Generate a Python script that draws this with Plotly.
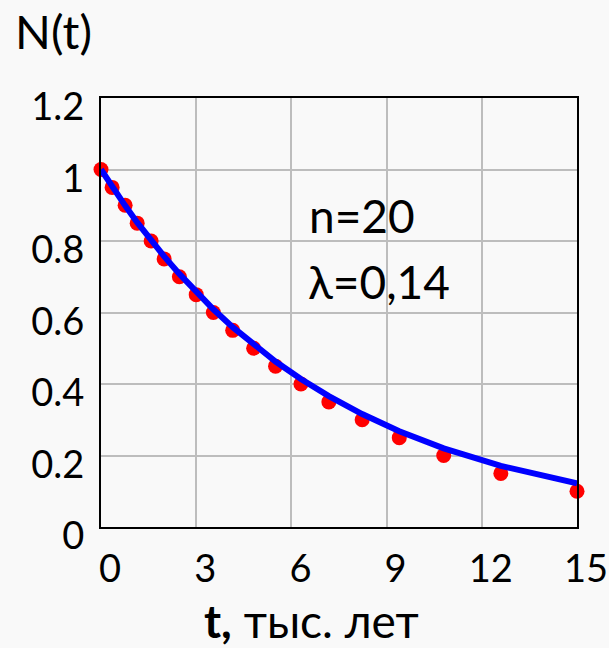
import plotly.graph_objects as go

# Data
t_points = [0, 0.35, 0.76, 1.14, 1.58, 1.99, 2.47, 3.0, 3.54, 4.15, 4.81,
            5.5, 6.3, 7.18, 8.23, 9.4, 10.8, 12.6, 15.0]
n_points = [1.0, 0.95, 0.9, 0.85, 0.8, 0.75, 0.7, 0.65, 0.6, 0.55, 0.5,
            0.45, 0.4, 0.35, 0.3, 0.25, 0.2, 0.15, 0.1]
n_curve = [1.0, 0.952, 0.899, 0.852, 0.802, 0.757, 0.708, 0.657, 0.609, 0.559,
           0.510, 0.463, 0.414, 0.366, 0.316, 0.268, 0.220, 0.171, 0.122]
x_ticks = [0, 3, 6, 9, 12, 15]
y_ticks = [0, 0.2, 0.4, 0.6, 0.8, 1.0, 1.2]

FONT = "Lato, 'Open Sans', sans-serif"
BG = "#f9f9f9"

fig = go.Figure()
fig.add_trace(go.Scatter(x=t_points, y=n_points, mode="markers",
                         marker=dict(color="#ff0000", size=15),
                         cliponaxis=False, showlegend=False))
fig.add_trace(go.Scatter(x=t_points, y=n_curve, mode="lines",
                         line=dict(color="#0000ff", width=6),
                         cliponaxis=False, showlegend=False))

fig.update_layout(
    width=609, height=648,
    margin=dict(l=101, r=32, t=98, b=121, autoexpand=False),
    paper_bgcolor=BG, plot_bgcolor=BG,
    font=dict(family=FONT, color="#000000", size=38),
    xaxis=dict(range=[0, 15], tickvals=x_ticks, ticktext=[str(v) for v in x_ticks],
               showgrid=True, gridcolor="#bdbdbd", gridwidth=1.5,
               showline=True, linecolor="#000000", linewidth=2, mirror=True,
               zeroline=False, ticks="", ticklabelshift=9, ticklabelstandoff=7,
               automargin=False, tickfont=dict(size=38)),
    yaxis=dict(range=[0, 1.2], tickvals=y_ticks,
               ticktext=["0", "0.2", "0.4", "0.6", "0.8", "1", "1.2"],
               showgrid=True, gridcolor="#bdbdbd", gridwidth=1.5,
               showline=True, linecolor="#000000", linewidth=2, mirror=True,
               zeroline=False, ticks="", ticklabelshift=9, ticklabelstandoff=7,
               automargin=False, tickfont=dict(size=38)),
)

fig.add_annotation(text="N(t)", xref="paper", yref="paper",
                   x=(13 - 101) / 476, y=(527 - 31) / 429,
                   xanchor="left", yanchor="middle", showarrow=False,
                   font=dict(size=47))
fig.add_annotation(text="<b>t,</b> тыс. лет", xref="paper", yref="paper",
                   x=(311 - 101) / 476, y=(527 - 620) / 429,
                   xanchor="center", yanchor="middle", showarrow=False,
                   font=dict(size=46))
fig.add_annotation(text="n=20", x=6.5, y=0.87, xref="x", yref="y",
                   xanchor="left", yanchor="middle", showarrow=False,
                   font=dict(size=46))
fig.add_annotation(text="λ=0,14", x=6.45, y=0.688, xref="x", yref="y",
                   xanchor="left", yanchor="middle", showarrow=False,
                   font=dict(size=46))

fig.write_html("out.html",
               config={"displayModeBar": False},
               post_script="document.body.style.margin='0';"
                           "document.body.style.overflow='hidden';")
